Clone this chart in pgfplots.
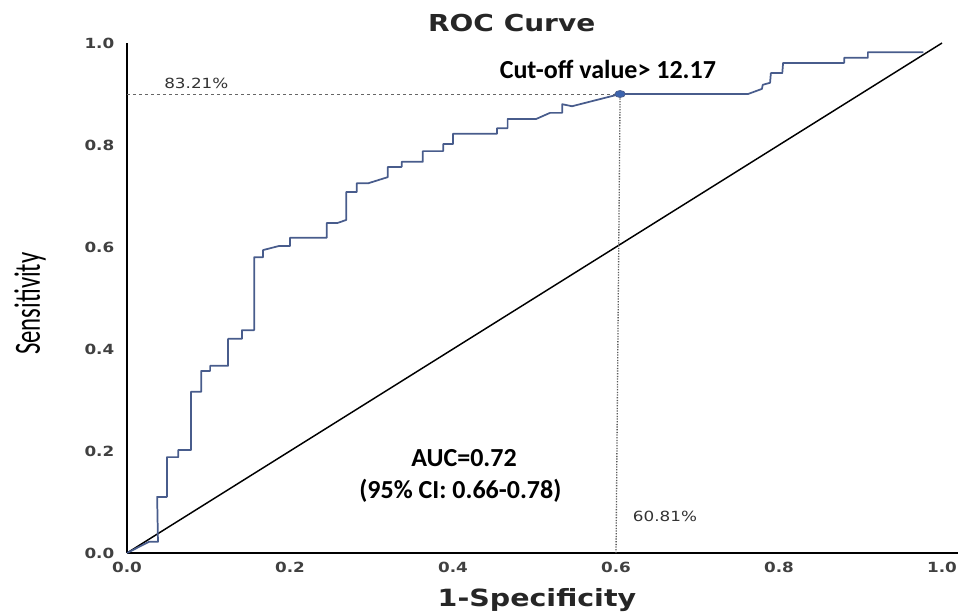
\documentclass[border=0pt]{standalone}
\usepackage{pgfplots}
\pgfplotsset{compat=1.18}
\usepackage{fontspec}
\setmainfont{DejaVu Sans}
\newfontfamily\vfont[FakeStretch=1.2]{DejaVu Sans}
\newfontfamily\cfont{Carlito}
\newfontfamily\sfont[FakeStretch=0.67]{Carlito}
\definecolor{curvecol}{RGB}{72,92,140}
\definecolor{markcol}{RGB}{60,100,175}
\begin{document}
\begin{tikzpicture}[x=0.75pt,y=0.75pt]
\useasboundingbox (-127,-62) rectangle (835,553);
\begin{axis}[
  at={(0,0)}, anchor=south west,
  scale only axis, width=623.25pt, height=382.5pt,
  xmin=0, xmax=1.0196, ymin=0, ymax=1.0,
  axis x line=bottom, axis y line=left,
  axis line style={-, line width=2pt, black},
  xtick={0,0.2,0.4,0.6,0.8,1.0},
  ytick={0,0.2,0.4,0.6,0.8,1.0},
  major tick length=0pt,
  /pgf/number format/assume math mode=true,
  /pgf/number format/.cd, fixed, fixed zerofill, precision=1, /pgfplots/.cd,
  ticklabel style={font=\vfont\bfseries\fontsize{10.5}{12}\selectfont, text=black!75},
  xticklabel style={yshift=-3.5pt},
  yticklabel style={xshift=-6pt},
  clip=false,
]
% diagonal reference
\addplot[black, line width=1.1pt] coordinates {(0,0) (1,1)};
% cut-off guide lines
\addplot[black!60, line width=0.7pt, dash pattern=on 2.5pt off 2pt] coordinates {(0,0.900) (0.605,0.900)};
\addplot[black!65, line width=1pt, dash pattern=on 0.9pt off 1.1pt] coordinates {(0.600,0) (0.605,0.900)};
% ROC curve
\addplot[curvecol, line width=1.3pt, line join=round] coordinates {
(0,0) (0.027,0.022) (0.038,0.022) (0.037,0.110) (0.049,0.110) (0.049,0.188)
(0.063,0.188) (0.063,0.202) (0.0785,0.202) (0.0785,0.316) (0.091,0.316)
(0.091,0.357) (0.102,0.357) (0.102,0.367) (0.124,0.367) (0.124,0.420)
(0.141,0.420) (0.141,0.437) (0.156,0.437) (0.156,0.580) (0.167,0.580)
(0.167,0.594) (0.1865,0.602) (0.200,0.602) (0.200,0.618) (0.245,0.618)
(0.245,0.647) (0.258,0.647) (0.269,0.653) (0.269,0.708) (0.282,0.708)
(0.282,0.725) (0.296,0.725) (0.320,0.737) (0.320,0.757) (0.337,0.757)
(0.337,0.767) (0.363,0.767) (0.363,0.788) (0.388,0.788) (0.388,0.802)
(0.400,0.802) (0.400,0.822) (0.454,0.822) (0.454,0.833) (0.467,0.833)
(0.467,0.851) (0.502,0.851) (0.519,0.863) (0.534,0.863) (0.534,0.880)
(0.546,0.876) (0.605,0.900) (0.762,0.900) (0.779,0.910) (0.780,0.918)
(0.789,0.922) (0.790,0.941) (0.804,0.941) (0.805,0.961) (0.880,0.961)
(0.880,0.971) (0.909,0.971) (0.909,0.982) (0.977,0.982)
};
% cut-off point
\addplot[only marks, mark=*, mark size=2.6pt, mark options={fill=markcol, draw=curvecol, xscale=1.5, line width=0.6pt}] coordinates {(0.605,0.900)};
% annotations
\node[anchor=west, font=\vfont\fontsize{10.5}{12}\selectfont, text=black!80] at (axis cs:0.040,0.920) {83.21\%};
\node[anchor=west, font=\vfont\fontsize{10.5}{12}\selectfont, text=black!80] at (axis cs:0.615,0.071) {60.81\%};
\node[font=\cfont\bfseries\fontsize{19.5}{22}\selectfont] at (axis cs:0.590,0.949) {Cut-off value> 12.17};
\node[font=\cfont\bfseries\fontsize{19.5}{22}\selectfont] at (axis cs:0.4135,0.186) {AUC=0.72};
\node[font=\cfont\bfseries\fontsize{19.5}{22}\selectfont] at (axis cs:0.409,0.122) {(95\% CI: 0.66-0.78)};
% title and axis labels
\node[font=\vfont\bfseries\fontsize{17.5}{20}\selectfont, text=black!85] at (axis cs:0.472,1.039) {ROC Curve};
\node[font=\vfont\bfseries\fontsize{17.8}{20}\selectfont, text=black!85] at (axis cs:0.503,-0.092) {1-Specificity};
\node[rotate=90, font=\sfont\fontsize{27.7}{30}\selectfont] at (axis cs:-0.119,0.489) {Sensitivity};
\end{axis}
\end{tikzpicture}
\end{document}
